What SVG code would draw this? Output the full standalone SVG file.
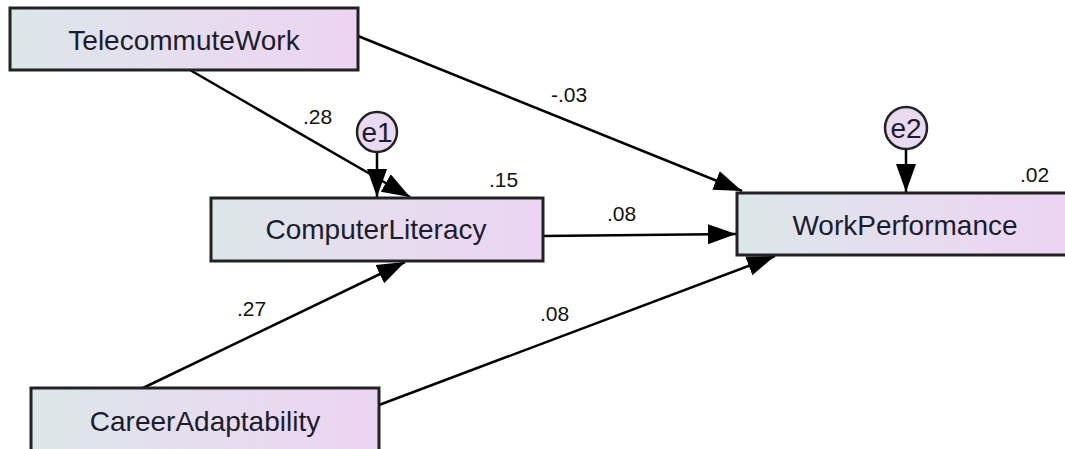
<svg xmlns="http://www.w3.org/2000/svg" width="1065" height="449" viewBox="0 0 1065 449">
<defs>
<linearGradient id="g" x1="0" y1="0" x2="1" y2="0">
<stop offset="0" stop-color="#dbe7e9"/>
<stop offset="0.5" stop-color="#e6ddee"/>
<stop offset="1" stop-color="#ecd4f3"/>
</linearGradient>
<marker id="arr" markerUnits="userSpaceOnUse" markerWidth="30" markerHeight="22" refX="28" refY="10" orient="auto" viewBox="0 0 30 20">
<path d="M0,0 L28,10 L0,20 Z" fill="#000"/>
</marker>
<style>
.box{fill:url(#g);stroke:#222;stroke-width:3}
.circ{fill:#e9d9f1;stroke:#222;stroke-width:2.5}
.t{font-family:"Liberation Sans",Arial,sans-serif;font-size:28px;fill:#1c1c2c;text-anchor:middle}
.lbl{font-family:"Liberation Sans",Arial,sans-serif;font-size:21px;fill:#111}
.c{stroke:#000;stroke-width:2.5;fill:none;marker-end:url(#arr)}
</style>
</defs>
<g id="connectors">
<line class="c" x1="190" y1="70" x2="410" y2="197"/>
<line class="c" x1="358" y1="36" x2="742" y2="191"/>
<line class="c" x1="377" y1="152" x2="377" y2="197"/>
<line class="c" x1="906" y1="149" x2="906" y2="192"/>
<line class="c" x1="543" y1="236" x2="736" y2="234"/>
<line class="c" x1="143" y1="388" x2="405" y2="262"/>
<line class="c" x1="379" y1="405" x2="775" y2="256"/>
<text class="lbl" x="303" y="124">.28</text>
<text class="lbl" x="551" y="102">-.03</text>
<text class="lbl" x="489" y="187">.15</text>
<text class="lbl" x="1020" y="182">.02</text>
<text class="lbl" x="607" y="221">.08</text>
<text class="lbl" x="237" y="316">.27</text>
<text class="lbl" x="540" y="321">.08</text>
</g>
<g id="TelecommuteWork">
<rect class="box" x="10" y="8" width="348" height="62"/>
<text class="t" x="184" y="50">TelecommuteWork</text>
</g>
<g id="ComputerLiteracy">
<rect class="box" x="211" y="198" width="332" height="63"/>
<text class="t" x="376" y="239">ComputerLiteracy</text>
</g>
<g id="WorkPerformance">
<rect class="box" x="737" y="193" width="336" height="62"/>
<text class="t" x="905" y="235">WorkPerformance</text>
</g>
<g id="CareerAdaptability">
<rect class="box" x="31" y="388" width="348" height="64"/>
<text class="t" x="205" y="431">CareerAdaptability</text>
</g>
<g id="e1">
<circle class="circ" cx="377" cy="132" r="20"/>
<text class="t" x="377" y="142">e1</text>
</g>
<g id="e2">
<circle class="circ" cx="906" cy="128" r="21"/>
<text class="t" x="906" y="138">e2</text>
</g>
</svg>
